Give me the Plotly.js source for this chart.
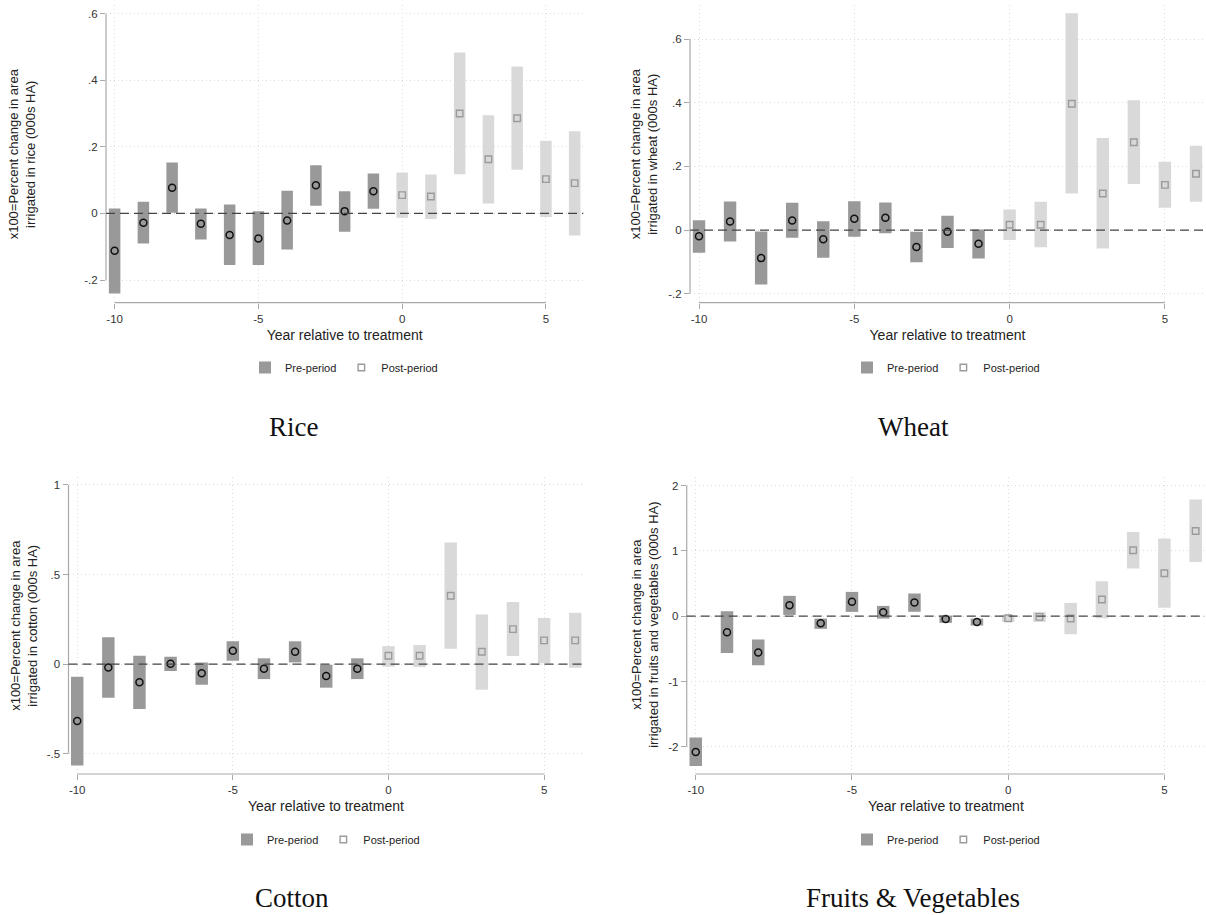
<!DOCTYPE html>
<html>
<head>
<meta charset="utf-8">
<script src="https://cdn.plot.ly/plotly-3.0.1.min.js"></script>
<style>
  html, body { margin: 0; padding: 0; background: #ffffff; }
  #chart { width: 1206px; height: 915px; }
</style>
</head>
<body>
<div id="chart"></div>
<script>
// Event-study estimates with 95% confidence intervals, by crop.
// Years -10..-1 are the pre-period, 0..6 the post-period.
const years = [-10, -9, -8, -7, -6, -5, -4, -3, -2, -1, 0, 1, 2, 3, 4, 5, 6];
const preCount = 10;

const riceEst  = [-0.112, -0.028, 0.077, -0.031, -0.065, -0.075, -0.021, 0.085, 0.007, 0.067, 0.055, 0.051, 0.300, 0.163, 0.286, 0.103, 0.091];
const riceLow  = [-0.240, -0.090, 0.002, -0.078, -0.155, -0.155, -0.108, 0.023, -0.055, 0.014, -0.013, -0.017, 0.118, 0.030, 0.131, -0.011, -0.066];
const riceHigh = [0.015, 0.035, 0.153, 0.015, 0.027, 0.007, 0.068, 0.145, 0.067, 0.120, 0.123, 0.117, 0.483, 0.295, 0.441, 0.218, 0.247];

const wheatEst  = [-0.019, 0.027, -0.088, 0.030, -0.029, 0.036, 0.039, -0.053, -0.005, -0.043, 0.017, 0.017, 0.397, 0.115, 0.276, 0.142, 0.177];
const wheatLow  = [-0.071, -0.036, -0.171, -0.024, -0.087, -0.021, -0.010, -0.101, -0.056, -0.089, -0.031, -0.054, 0.115, -0.058, 0.145, 0.070, 0.089];
const wheatHigh = [0.031, 0.090, -0.004, 0.086, 0.028, 0.091, 0.087, -0.005, 0.045, 0.002, 0.065, 0.089, 0.681, 0.289, 0.408, 0.215, 0.265];

const cottonEst  = [-0.318, -0.019, -0.102, 0.002, -0.052, 0.074, -0.026, 0.069, -0.067, -0.026, 0.046, 0.046, 0.381, 0.069, 0.195, 0.132, 0.132];
const cottonLow  = [-0.567, -0.188, -0.251, -0.039, -0.115, 0.018, -0.084, 0.009, -0.132, -0.084, -0.015, -0.017, 0.085, -0.143, 0.045, 0.004, -0.021];
const cottonHigh = [-0.071, 0.149, 0.046, 0.041, 0.009, 0.127, 0.032, 0.127, -0.004, 0.032, 0.100, 0.106, 0.679, 0.277, 0.346, 0.257, 0.286];

const fvEst  = [-2.080, -0.245, -0.557, 0.169, -0.107, 0.220, 0.061, 0.210, -0.041, -0.087, -0.031, -0.010, -0.036, 0.256, 1.011, 0.659, 1.307];
const fvLow  = [-2.294, -0.562, -0.751, 0.020, -0.194, 0.066, -0.036, 0.068, -0.102, -0.143, -0.087, -0.087, -0.276, -0.031, 0.731, 0.128, 0.832];
const fvHigh = [-1.859, 0.077, -0.357, 0.312, -0.036, 0.373, 0.158, 0.348, 0.010, -0.036, 0.020, 0.066, 0.204, 0.536, 1.292, 1.190, 1.788];

const xTickVals = [-10, -5, 0, 5];
const xTickText = ['-10', '-5', '0', '5'];

const riceTickVals   = [-0.2, 0, 0.2, 0.4, 0.6];
const riceTickText   = ['-.2', '0', '.2', '.4', '.6'];
const wheatTickVals  = [-0.2, 0, 0.2, 0.4, 0.6];
const wheatTickText  = ['-.2', '0', '.2', '.4', '.6'];
const cottonTickVals = [-0.5, 0, 0.5, 1];
const cottonTickText = ['-.5', '0', '.5', '1'];
const fvTickVals     = [-2, -1, 0, 1, 2];
const fvTickText     = ['-2', '-1', '0', '1', '2'];

const cropNames = ['Rice', 'Wheat', 'Cotton', 'Fruits &amp; Vegetables'];
const yTitleText = [
  'x100=Percent change in area<br>irrigated in rice (000s HA)',
  'x100=Percent change in area<br>irrigated in wheat (000s HA)',
  'x100=Percent change in area<br>irrigated in cotton (000s HA)',
  'x100=Percent change in area<br>irrigated in fruits and vegetables (000s HA)'
];
const xTitleText = 'Year relative to treatment';
const preLabel = 'Pre-period';
const postLabel = 'Post-period';

// ---- page geometry (pixels) ----
const W = 1206, H = 915;
const px = v => v / W;
const py = v => 1 - v / H;

const panels = [
  { est: riceEst,   low: riceLow,   high: riceHigh,   tv: riceTickVals,   tt: riceTickText,
    dom: [106, 583.3, 5, 302.7],     xr: [-10.30, 6.30], yr: [-0.268, 0.626],
    yTitleX: 21.5, legendX: 344, legendY: 367.5, capX: 293, capY: 427 },
  { est: wheatEst,  low: wheatLow,  high: wheatHigh,  tv: wheatTickVals,  tt: wheatTickText,
    dom: [690, 1205, 5, 302.7],      xr: [-10.29, 6.29], yr: [-0.228, 0.707],
    yTitleX: 643.5, legendX: 946, legendY: 367.5, capX: 913, capY: 427 },
  { est: cottonEst, low: cottonLow, high: cottonHigh, tv: cottonTickVals, tt: cottonTickText,
    dom: [68.5, 583.3, 476.7, 774],  xr: [-10.28, 6.26], yr: [-0.614, 1.046],
    yTitleX: 24.5, legendX: 326, legendY: 839.5, capX: 292, capY: 898 },
  { est: fvEst,     low: fvLow,     high: fvHigh,     tv: fvTickVals,     tt: fvTickText,
    dom: [686.7, 1205, 476.7, 774],  xr: [-10.29, 6.30], yr: [-2.418, 2.138],
    yTitleX: 645.5, legendX: 946, legendY: 839.5, capX: 913, capY: 898 }
];

const FONT = 'Liberation Sans, Arial, sans-serif';
const AXIS_GRAY = '#a9a9a9';
const GRID = '#dcdcdc';
const PRE_BAR = '#999999';
const POST_BAR = '#d9d9d9';
const POST_MARK = '#9b9b9b';

const data = [];
const layout = {
  width: W, height: H,
  margin: { l: 0, r: 0, t: 0, b: 0 },
  paper_bgcolor: '#ffffff',
  plot_bgcolor: '#ffffff',
  barmode: 'overlay',
  showlegend: true,
  font: { family: FONT, color: '#222222' },
  shapes: [],
  annotations: []
};

panels.forEach((p, i) => {
  const s = i === 0 ? '' : String(i + 1);
  const xa = 'x' + s, ya = 'y' + s;
  const legendId = 'legend' + s;

  const preX = years.slice(0, preCount), postX = years.slice(preCount);
  const span = p.high.map((h, k) => h - p.low[k]);

  // confidence-interval bars
  data.push({
    type: 'bar', x: preX, base: p.low.slice(0, preCount), y: span.slice(0, preCount),
    width: 0.4, marker: { color: PRE_BAR, line: { width: 0 } },
    name: preLabel, legend: legendId, showlegend: true, legendrank: 1,
    xaxis: xa, yaxis: ya, hoverinfo: 'skip'
  });
  data.push({
    type: 'bar', x: postX, base: p.low.slice(preCount), y: span.slice(preCount),
    width: 0.4, marker: { color: POST_BAR, line: { width: 0 } },
    name: postLabel + ' CI', legend: legendId, showlegend: false,
    xaxis: xa, yaxis: ya, hoverinfo: 'skip'
  });
  // point estimates
  data.push({
    type: 'scatter', mode: 'markers', x: preX, y: p.est.slice(0, preCount),
    marker: { symbol: 'circle-open', size: 7, color: '#111111', line: { width: 1.5, color: '#111111' } },
    name: preLabel + ' estimate', legend: legendId, showlegend: false,
    xaxis: xa, yaxis: ya, hoverinfo: 'skip', cliponaxis: false
  });
  data.push({
    type: 'scatter', mode: 'markers', x: postX, y: p.est.slice(preCount),
    marker: { symbol: 'square-open', size: 6.5, color: POST_MARK, line: { width: 1.4, color: POST_MARK } },
    name: postLabel, legend: legendId, showlegend: true, legendrank: 2,
    xaxis: xa, yaxis: ya, hoverinfo: 'skip', cliponaxis: false
  });

  const [l, r, t, b] = p.dom;
  layout['xaxis' + s] = {
    domain: [px(l), px(r)], range: p.xr, anchor: ya,
    tickmode: 'array', tickvals: xTickVals, ticktext: xTickText,
    ticks: 'outside', ticklen: 5, tickwidth: 1, tickcolor: AXIS_GRAY,
    showline: false, zeroline: false,
    showgrid: true, gridcolor: GRID, griddash: '1px,3px', gridwidth: 1,
    tickfont: { family: FONT, size: 11.5, color: '#333333' },
    title: { text: xTitleText, font: { family: FONT, size: 14, color: '#222222' }, standoff: 6 },
    fixedrange: true
  };
  layout['yaxis' + s] = {
    domain: [py(b), py(t)], range: p.yr, anchor: xa,
    tickmode: 'array', tickvals: p.tv, ticktext: p.tt,
    ticks: 'outside', ticklen: 5, tickwidth: 1, tickcolor: AXIS_GRAY,
    showline: false, zeroline: false,
    showgrid: true, gridcolor: GRID, griddash: '1px,3px', gridwidth: 1,
    tickfont: { family: FONT, size: 11.5, color: '#333333' },
    fixedrange: true
  };

  // axis lines span the labelled tick range only
  layout.shapes.push({
    type: 'line', xref: xa + ' domain', yref: ya,
    x0: 0, x1: 0, y0: p.tv[0], y1: p.tv[p.tv.length - 1],
    line: { color: AXIS_GRAY, width: 1.2 }, layer: 'above'
  });
  layout.shapes.push({
    type: 'line', xref: xa, yref: ya + ' domain',
    x0: xTickVals[0], x1: xTickVals[xTickVals.length - 1], y0: 0, y1: 0,
    line: { color: AXIS_GRAY, width: 1.2 }, layer: 'above'
  });
  // dashed reference line at zero
  layout.shapes.push({
    type: 'line', xref: xa + ' domain', yref: ya,
    x0: 0, x1: 1, y0: 0, y1: 0,
    line: { color: '#444444', width: 1.3, dash: '9px,5px' }, layer: 'above'
  });

  layout[legendId] = {
    orientation: 'h', x: px(p.legendX), xanchor: 'center',
    y: py(p.legendY), yanchor: 'middle',
    font: { family: FONT, size: 11, color: '#222222' },
    bgcolor: 'rgba(0,0,0,0)', traceorder: 'normal', itemclick: false
  };

  // rotated y-axis title
  layout.annotations.push({
    xref: 'paper', yref: 'paper', x: px(p.yTitleX), y: (py(b) + py(t)) / 2,
    xanchor: 'center', yanchor: 'middle', textangle: -90, showarrow: false,
    text: yTitleText[i], align: 'center',
    font: { family: FONT, size: 13, color: '#222222' }
  });
  // panel caption
  layout.annotations.push({
    xref: 'paper', yref: 'paper', x: px(p.capX), y: py(p.capY),
    xanchor: 'center', yanchor: 'middle', showarrow: false,
    text: cropNames[i],
    font: { family: 'Liberation Serif, Times New Roman, serif', size: 27, color: '#111111' }
  });
});

Plotly.newPlot('chart', data, layout, { staticPlot: true, displayModeBar: false });
</script>
</body>
</html>
